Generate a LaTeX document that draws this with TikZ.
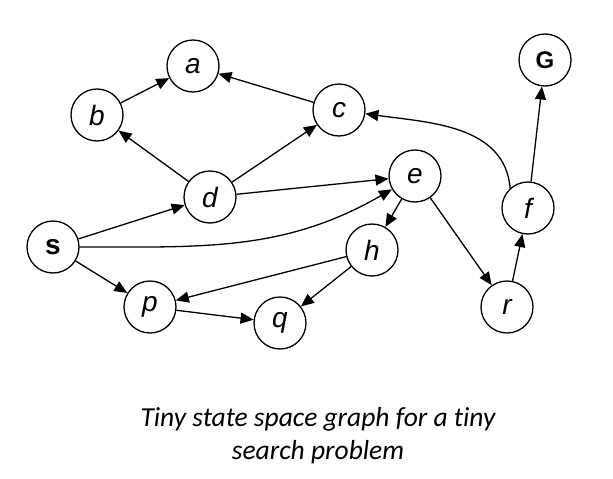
\documentclass[tikz,border=0pt]{standalone}
\usepackage{fontspec}
\setmainfont{Liberation Sans}
\newfontfamily\capfont[Ligatures=NoCommon]{Carlito}
\usetikzlibrary{arrows.meta}
\tikzset{
  st/.style={circle, draw, line width=1.3pt, minimum size=52pt, inner sep=0pt, font=\fontsize{28}{28}\selectfont\itshape},
  stb/.style={st, font=\fontsize{28}{28}\selectfont\bfseries},
  stg/.style={st, font=\fontsize{24}{24}\selectfont\bfseries},
  ed/.style={line width=1.3pt, -{Triangle[length=13pt,width=11pt]}},
  captext/.style={font=\fontsize{27.5}{33}\selectfont\capfont\itshape, align=center}
}
\begin{document}
\begin{tikzpicture}[x=1pt,y=-1pt]
\useasboundingbox (0,0) rectangle (613,479);
\node[st]  (a) at (193,66)  {a};
\node[st]  (b) at (97,115)  {b};
\node[st]  (c) at (339,110) {c};
\node[stg] (G) at (545,60)  {G};
\node[st]  (d) at (210,197) {d};
\node[st]  (e) at (415,176) {e};
\node[st]  (f) at (528,208) {f};
\node[stb] (S) at (53,247)  {s};
\node[st]  (h) at (372,250) {h};
\node[st]  (p) at (150,307) {p};
\node[st]  (q) at (280,323) {q};
\node[st]  (r) at (507,307) {r};
\draw[ed] (b) -- (a);
\draw[ed] (c) -- (a);
\draw[ed] (d) -- (b);
\draw[ed] (d) -- (c);
\draw[ed] (d) -- (e);
\draw[ed] (S) -- (d);
\draw[ed] (S) -- (p);
\draw[ed] (S) to[out=0,in=-150] (e);
\draw[ed] (e) -- (h);
\draw[ed] (e) -- (r);
\draw[ed] (h) -- (p);
\draw[ed] (h) -- (q);
\draw[ed] (p) -- (q);
\draw[ed] (r) -- (f);
\draw[ed] (f) -- (G);
\draw[ed] (f.132) to[out=95,in=-8] (c);
\node[captext] (caption) at (318,436) {Tiny state space graph for a tiny\\search problem};
\end{tikzpicture}
\end{document}
